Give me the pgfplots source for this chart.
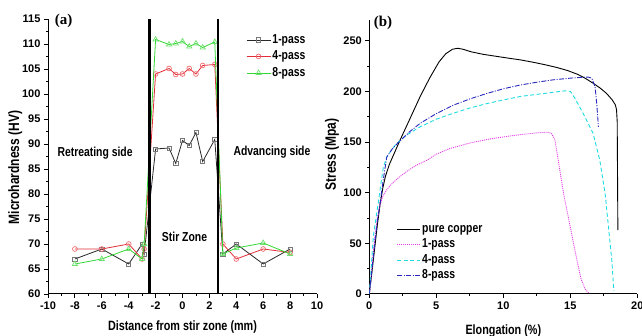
\documentclass[border=0pt]{standalone}
\usepackage{pgfplots}
\pgfplotsset{compat=1.18}
\usepackage{fontspec}
\setmainfont{Liberation Sans}
\newfontfamily\narrowsans{Liberation Sans}[FakeStretch=0.8]
\newfontfamily\titleserif{Liberation Serif}

\definecolor{passone}{RGB}{40,40,40}
\definecolor{passonemark}{RGB}{120,120,120}
\definecolor{passfour}{RGB}{225,45,55}
\definecolor{passfourmark}{RGB}{240,110,115}
\definecolor{passeight}{RGB}{50,215,50}
\definecolor{passeightmark}{RGB}{110,225,110}
\definecolor{cumag}{RGB}{230,60,230}
\definecolor{cucyan}{RGB}{30,220,225}
\definecolor{cublue}{RGB}{40,40,190}

\newcommand{\lblfont}{\narrowsans\bfseries\fontsize{13}{13}\selectfont}
\newcommand{\tickfont}{\bfseries\fontsize{11}{11}\selectfont}

\pgfplotsset{
  panel/.style={
    scale only axis,
    clip mode=individual,
    axis x line*=bottom, axis y line*=left,
    axis line style={-, line width=1pt},
    tick align=outside,
    major tick length=4pt, minor tick length=2.2pt,
    tick style={black, line width=0.9pt},
    xticklabel style={font=\tickfont},
    yticklabel style={font=\tickfont},
    /pgf/number format/assume math mode=true,
    xlabel style={font=\narrowsans\bfseries\fontsize{13.5}{13.5}\selectfont},
    ylabel style={font=\narrowsans\bfseries\fontsize{15}{15}\selectfont},
    legend cell align=left,
  }
}

\begin{document}
\begin{tikzpicture}
\useasboundingbox (0,0) rectangle (642pt,336pt);

% (a) microhardness profile across the weld
\begin{axis}[panel,
  at={(48pt,42pt)}, anchor=south west,
  width=269pt, height=275pt,
  xmin=-10, xmax=10, ymin=60, ymax=115,
  xtick={-10,-8,...,10}, ytick={60,65,...,115},
  minor x tick num=1, minor y tick num=1,
  xlabel={Distance from stir zone (mm)},
  ylabel={Microhardness (HV)},
  x label style={at={(axis description cs:0.5,-0.12)}, anchor=center},
  y label style={at={(axis description cs:-0.122,0.46)}, anchor=center},
  legend style={draw=none, fill=none, at={(axis cs:4.72,112.3)}, anchor=north west,
    inner sep=0pt, row sep=2pt, font=\lblfont,
    nodes={inner sep=1.5pt, text height=9pt, text depth=2.5pt}},
  legend image code/.code={\draw[mark repeat=2,mark phase=2,#1] plot coordinates {(0pt,0pt) (12pt,0pt) (24pt,0pt)};},
]
\addplot[passone, line width=0.8pt, mark=square, mark size=2.1pt,
  mark options={draw=passonemark, fill=white, solid, line width=0.7pt}]
  coordinates {(-8,67) (-6,69) (-4,66) (-3,70) (-2.85,68)
    (-2,89.0) (-1,89.2) (-0.5,86.1) (0,90.7) (0.5,89.7) (1,92.3) (1.5,86.5) (2.4,90.9)
    (3,68) (4,70) (6,66) (8,69)};
\addlegendentry{1-pass}
\addplot[passfour, line width=0.8pt, mark=o, mark size=2.4pt,
  mark options={draw=passfourmark, fill=white, solid, line width=0.7pt}]
  coordinates {(-8,69) (-6,69) (-4,70) (-3,67) (-2.85,69)
    (-2,104.0) (-1,105.1) (-0.5,103.9) (0,104.0) (0.5,105.1) (1,104.0) (1.5,105.7) (2.4,105.9)
    (3,70) (4,67) (6,69) (8,68.3)};
\addlegendentry{4-pass}
\addplot[passeight, line width=0.8pt, mark=triangle, mark size=3pt,
  mark options={draw=passeightmark, fill=white, solid, line width=0.7pt}]
  coordinates {(-8,66) (-6,67) (-4,69) (-3,67) (-2.85,70)
    (-2,110.9) (-1,109.9) (-0.5,110.1) (0,110.5) (0.5,109.5) (1,110.1) (1.5,109.3) (2.4,110.4)
    (3,68) (4,69.2) (6,70.2) (8,68)};
\addlegendentry{8-pass}
% stir zone boundaries
\addplot[black, line width=2.6pt, forget plot] coordinates {(-2.45,60) (-2.45,115)};
\addplot[black, line width=2.6pt, forget plot] coordinates {(2.65,60) (2.65,115)};
\node[font=\titleserif\bfseries\fontsize{15}{15}\selectfont] at (axis description cs:0.058,0.993) {(a)};
\node[font=\lblfont] at (axis cs:-6.5,88.2) {Retreating side};
\node[font=\lblfont] at (axis cs:6.65,88.4) {Advancing side};
\node[font=\lblfont] at (axis cs:0.15,71.4) {Stir Zone};
\end{axis}

% (b) engineering stress-strain curves
\begin{axis}[panel,
  at={(369.3pt,42pt)}, anchor=south west,
  width=268pt, height=273.6pt,
  xmin=0, xmax=20, ymin=0, ymax=270,
  xtick={0,5,...,20}, ytick={0,50,...,250},
  minor x tick num=1, minor y tick num=1,
  xlabel={Elongation (\%)},
  ylabel={Stress (Mpa)},
  x label style={at={(axis description cs:0.5,-0.135)}, anchor=center},
  y label style={at={(axis description cs:-0.139,0.51)}, anchor=center},
  legend style={draw=none, fill=none, at={(axis cs:2.04,71.5)}, anchor=north west,
    inner sep=0pt, row sep=1pt, font=\lblfont,
    nodes={inner sep=1.5pt, text height=9pt, text depth=2.5pt}},
  legend image code/.code={\draw[#1] (0pt,0pt) -- (23pt,0pt);},
]
\addplot[black, line width=0.9pt] coordinates {
  (0,0) (0.2,22) (0.4,45) (0.6,68) (0.8,88) (1.0,104) (1.2,116) (1.5,128) (1.9,140)
  (2.3,152) (3.0,172) (3.8,195) (4.5,213) (5.2,229) (5.7,237) (6.2,241.5) (6.6,242.5)
  (7.0,241.5) (7.6,239) (8.5,236.5) (9.5,234.5) (10.5,232.5) (11.3,231) (12.3,228.5)
  (13.2,226) (14.0,223.5) (14.8,220.5) (15.5,217) (16.1,213) (16.7,208) (17.2,203.5)
  (17.7,198) (18.1,192) (18.35,187) (18.45,182) (18.5,170) (18.55,63)};
\addlegendentry{pure copper}
\addplot[cumag, line width=0.9pt, dash pattern=on 1pt off 1pt] coordinates {
  (0,0) (0.2,25) (0.4,55) (0.6,75) (0.8,88) (1.0,96) (1.3,103) (1.7,109) (2.2,115)
  (2.8,121) (3.5,127) (4.3,132) (5.0,138) (6.0,143.5) (7.5,149) (9.0,153) (10.0,155)
  (11.3,157.3) (12.5,159) (13.3,159.7) (13.6,158.5) (13.85,152) (14.1,132) (14.5,99)
  (15.0,66) (15.5,33) (15.8,15) (16.1,5) (16.4,0.5)};
\addlegendentry{1-pass}
\addplot[cucyan, line width=0.9pt, dash pattern=on 4pt off 2.5pt] coordinates {
  (0,0) (0.15,28) (0.3,57) (0.5,75) (0.67,90) (0.9,112) (1.05,125) (1.3,135) (1.6,141)
  (2.0,148) (2.8,157) (3.8,165) (5.0,172.5) (6.3,178.5) (7.5,183.5) (8.8,188) (10.0,191.5)
  (11.3,195) (12.5,197) (13.7,199) (14.6,200.5) (15.0,200) (15.35,193) (15.95,178.5)
  (16.7,158.5) (17.2,132) (17.6,99) (17.85,66) (18.1,33) (18.25,3)};
\addlegendentry{4-pass}
\addplot[cublue, line width=0.9pt, dash pattern=on 5pt off 1.5pt on 1pt off 1.5pt] coordinates {
  (0,0) (0.2,25) (0.4,50) (0.6,72) (0.8,89.5) (1.04,112.5) (1.3,135) (1.7,143) (2.2,150)
  (3.0,160) (3.8,168.5) (5.0,178) (6.3,186.5) (7.5,192.5) (8.8,198) (10.0,202.5)
  (11.3,206.3) (12.5,209) (13.7,211.3) (15.0,213) (16.0,214) (16.35,214) (16.6,213)
  (16.85,204.5) (16.97,188) (17.1,165)};
\addlegendentry{8-pass}
\node[font=\titleserif\bfseries\fontsize{15}{15}\selectfont] at (axis description cs:0.051,0.99) {(b)};
\end{axis}
\end{tikzpicture}
\end{document}
